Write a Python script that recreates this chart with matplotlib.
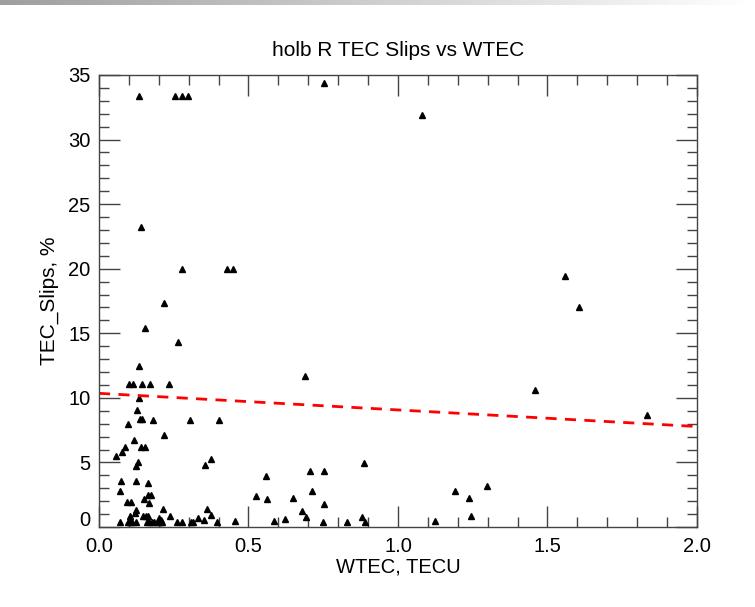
import matplotlib
matplotlib.use("Agg")
import matplotlib.pyplot as plt
import matplotlib.transforms as mtransforms
import numpy as np

plt.rcParams['font.family'] = ['Liberation Sans', 'DejaVu Sans']

# WTEC (TECU) and TEC slips (%)
wtec = [0.134, 0.254, 0.278, 0.298, 0.753, 1.08, 0.14, 0.277, 0.427, 0.448,
        1.559, 1.606, 1.458, 1.833, 0.885, 0.754, 0.752, 0.749, 0.83, 0.881,
        0.891, 1.124, 1.19, 1.237, 1.245, 1.298,
        0.217, 0.154, 0.265, 0.134, 0.100, 0.115, 0.144, 0.172, 0.233,
        0.133, 0.69, 0.127, 0.098, 0.137, 0.144, 0.182, 0.303, 0.401,
        0.217, 0.118, 0.087, 0.078, 0.057, 0.140, 0.155, 0.130, 0.123,
        0.375, 0.353, 0.072, 0.125, 0.165, 0.070, 0.163, 0.174, 0.149,
        0.095, 0.108, 0.167, 0.125, 0.214, 0.360, 0.375, 0.238, 0.104,
        0.120, 0.146, 0.156, 0.165, 0.330, 0.350, 0.201, 0.208,
        0.525, 0.557, 0.562, 0.648, 0.680, 0.693, 0.707, 0.713, 0.621,
        0.070, 0.097, 0.103, 0.112, 0.125, 0.159, 0.168, 0.176, 0.183,
        0.198, 0.205, 0.212, 0.262, 0.278, 0.307, 0.316, 0.395, 0.456, 0.584]
slips = [33.4, 33.4, 33.4, 33.4, 34.4, 31.9, 23.2, 20.0, 20.0, 20.0,
         19.4, 17.0, 10.6, 8.7, 4.95, 4.34, 1.77, 0.41, 0.39, 0.8,
         0.41, 0.46, 2.8, 2.22, 0.88, 3.18,
         17.37, 15.4, 14.3, 12.47, 11.08, 11.08, 11.08, 11.08, 11.08,
         9.97, 11.67, 9.06, 7.98, 8.34, 8.34, 8.29, 8.29, 8.29,
         7.1, 6.77, 6.2, 5.83, 5.52, 6.2, 6.2, 5.0, 4.71,
         5.24, 4.79, 3.53, 3.6, 3.42, 2.82, 2.5, 2.5, 2.16,
         1.92, 1.95, 1.88, 1.3, 1.4, 1.4, 0.96, 0.85, 0.85,
         1.06, 0.85, 0.85, 0.85, 0.71, 0.58, 0.7, 0.55,
         2.43, 3.95, 2.17, 2.27, 1.27, 0.77, 4.34, 2.8, 0.64,
         0.41, 0.41, 0.41, 0.41, 0.41, 0.41, 0.41, 0.41, 0.41,
         0.41, 0.41, 0.41, 0.41, 0.41, 0.41, 0.41, 0.41, 0.5, 0.5]

# fitted trend line, end points
fit_x = [0.0, 2.0]
fit_y = [10.35, 7.78]

fig = plt.figure(figsize=(7.55, 6.07), dpi=100)

# grey gradient strip along the top edge of the screenshot
bar = fig.add_axes([0, 1 - 5 / 607, 1, 5 / 607])
grad = np.linspace(0.62, 1.0, 256).reshape(1, -1)
bar.imshow(grad, aspect='auto', cmap='gray', vmin=0, vmax=1)
bar.axis('off')

ax = fig.add_axes([99 / 755, 1 - 527 / 607, 598 / 755, 452 / 607])
ax.plot(wtec, slips, linestyle='none', marker='^', markersize=4.8,
        color='black', clip_on=False)
ax.plot(fit_x, fit_y, color='#ff0000', linestyle=(0, (4, 3)), linewidth=2)

ax.set_xlim(0, 2.0)
ax.set_ylim(0, 35)
ax.set_xticks([0.0, 0.5, 1.0, 1.5, 2.0])
ax.set_xticklabels(['0.0', '0.5', '1.0', '1.5', '2.0'])
ax.set_xticks(np.arange(0, 2.01, 0.1), minor=True)
ax.set_yticks([0, 5, 10, 15, 20, 25, 30, 35])
ax.set_yticks(np.arange(0, 36, 1), minor=True)

ax.tick_params(which='both', direction='in', top=True, right=True,
               color='#444444', width=1, labelsize=14.5)
ax.tick_params(which='major', length=15)
ax.tick_params(which='minor', length=7.5)
ax.tick_params(axis='x', pad=7)
ax.tick_params(axis='y', pad=6)
for s in ax.spines.values():
    s.set_color('#444444')
    s.set_linewidth(1)

# the y "0" sits a little higher, as in the reference
fig.canvas.draw()
ax.get_yticklabels()[0].set_transform(
    ax.get_yticklabels()[0].get_transform()
    + mtransforms.ScaledTranslation(0, 6 / 72, fig.dpi_scale_trans))

ax.set_title('holb R TEC Slips vs WTEC', fontsize=15, pad=14)
ax.set_xlabel('WTEC, TECU', fontsize=14.5, labelpad=1)
ax.set_ylabel('TEC_Slips, %', fontsize=15, labelpad=7)

fig.savefig('out.png', dpi=100)
